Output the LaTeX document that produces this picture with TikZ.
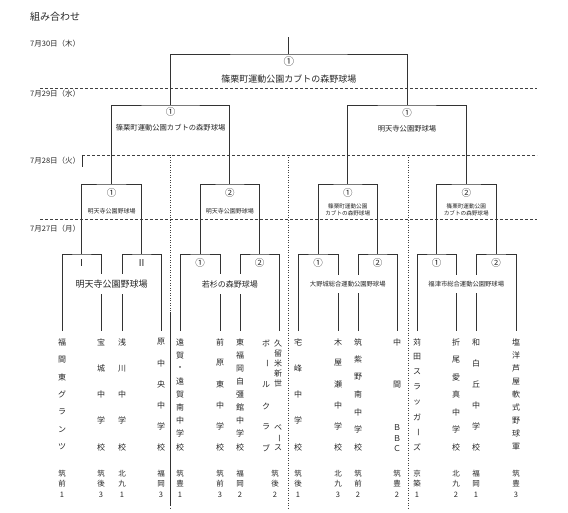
\documentclass[tikz,border=0pt]{standalone}
\usepackage{fontspec}
\setmainfont{Noto Sans CJK JP}
\usetikzlibrary{positioning}

\tikzset{
  tree/.style={line width=0.9pt, black!80},
  dayline/.style={densely dashed, line width=0.6pt, black!75},
  zoneline/.style={dash pattern=on 1pt off 1.5pt, line width=0.6pt, black!75},
  day/.style={anchor=west, inner sep=0pt, font=\fontsize{7.5}{8}\selectfont, text=black!85},
  num/.style={inner sep=0pt, font=\fontsize{9.5}{9.5}\selectfont, text=black!85},
  team/.style={inner sep=0pt, font=\fontsize{8}{8}\selectfont, text=black!85},
  region/.style={inner sep=0pt, align=center, font=\fontsize{7.5}{10.5}\selectfont, text=black!85},
  venue/.style={inner sep=0pt, align=center, text=black!85},
  cutvenue/.style={venue, fill=white, inner xsep=1pt, inner ysep=6pt}
}

% vertical long sound mark
\newcommand{\vchou}{\rotatebox[origin=c]{-90}{ー}}
% team name set top to bottom: name, x, step, chars
\newcommand{\teamcol}[4]{%
  \foreach \ch [count=\i from 0] in {#4}
    \node[team] (#1c\i) at (#2,342+\i*#3) {\ch};
}

\begin{document}
\begin{tikzpicture}[x=1pt,y=-1pt]
  \useasboundingbox (0,0) rectangle (568,513);

  % title and days
  \node[day, font=\fontsize{10}{10}\selectfont] (title) at (30,17) {組み合わせ};
  \node[day] (d30) at (30,44) {7月30日（木）};
  \node[day] (d29) at (30,94) {7月29日（水）};
  \node[day] (d28) at (30,161) {7月28日（火）};
  \node[day] (d27) at (30,229) {7月27日（月）};

  % day lines
  \draw[dayline] (40,88) -- (537,88);
  \draw[dayline] (82,155) -- (537,155);
  \draw[dayline] (40,219) -- (537,219);
  \draw[tree] (82,155) -- (82,167);

  % zone lines
  \foreach \x in {170,288,408}
    \draw[zoneline] (\x,155) -- (\x,508);
  \draw[tree, line width=0.7pt] (170,312) -- (170,506);

  % team line ends
  \foreach \n/\x in {1/62,2/101,3/122,4/161,5/180,6/220,7/240,8/279,
                     9/298,10/338,11/358,12/397,13/417,14/456,15/476,16/516}
    \coordinate (t\n) at (\x,331);

  % match tops
  \foreach \n/\x in {1/81.5,2/141.5,3/200,4/259.5,5/318,6/377.5,7/436.5,8/496}
    \coordinate (m\n) at (\x,254);
  \foreach \n/\x in {1/111.5,2/229.75,3/347.75,4/466.25}
    \coordinate (q\n) at (\x,184);
  \coordinate (s1) at (170.6,105);
  \coordinate (s2) at (407,105);
  \coordinate (f) at (288.8,54);
  \coordinate (win) at (288.8,37);

  % brackets
  \foreach \a/\m/\b in {t1/m1/t2,t3/m2/t4,t5/m3/t6,t7/m4/t8,
                        t9/m5/t10,t11/m6/t12,t13/m7/t14,t15/m8/t16}
    \draw[tree] (\a) |- (\m) -| (\b);
  \foreach \a/\m/\b in {m1/q1/m2,m3/q2/m4,m5/q3/m6,m7/q4/m8}
    \draw[tree] (\a) |- (\m) -| (\b);
  \draw[tree] (q1) |- (s1) -| (q2);
  \draw[tree] (q3) |- (s2) -| (q4);
  \draw[tree] (s1) |- (f) -| (s2);
  \draw[tree] (f) -- (win);

  % final
  \node[num, font=\fontsize{10.5}{10.5}\selectfont] (fnum) at (288.8,62) {①};
  \node[venue, font=\fontsize{9}{9}\selectfont] (fven) at (288.8,79) {篠栗町運動公園カブトの森野球場};

  % semi finals
  \node[num] (s1num) at (170.6,112) {①};
  \node[venue, font=\fontsize{7.3}{8}\selectfont] (s1ven) at (170.6,128) {篠栗町運動公園カブトの森野球場};
  \node[num] (s2num) at (407,113) {①};
  \node[venue, font=\fontsize{7.3}{8}\selectfont] (s2ven) at (407,129) {明天寺公園野球場};

  % second round
  \node[num] (q1num) at (111.5,193) {①};
  \node[venue, font=\fontsize{6}{6}\selectfont] (q1ven) at (111.5,211) {明天寺公園野球場};
  \node[num] (q2num) at (229.75,193) {②};
  \node[venue, font=\fontsize{6}{6}\selectfont] (q2ven) at (229.75,211) {明天寺公園野球場};
  \node[num] (q3num) at (347.75,193) {①};
  \node[venue, font=\fontsize{5.6}{7.5}\selectfont] (q3ven) at (347.75,210) {篠栗町運動公園\\カブトの森野球場};
  \node[num] (q4num) at (466.25,193) {②};
  \node[venue, font=\fontsize{5.6}{7.5}\selectfont] (q4ven) at (466.25,210) {篠栗町運動公園\\カブトの森野球場};

  % first round
  \foreach \n/\x/\l in {1/81.5/Ⅰ,2/141.5/Ⅱ,3/200/①,4/259.5/②,5/318/①,6/377.5/②,7/436.5/①,8/496/②}
    \node[num] (m\n num) at (\x,263) {\l};
  \node[cutvenue, font=\fontsize{9}{9}\selectfont] (p1ven) at (111.5,284) {明天寺公園野球場};
  \node[cutvenue, font=\fontsize{8}{8}\selectfont] (p2ven) at (229.75,284) {若杉の森野球場};
  \node[cutvenue, font=\fontsize{6.3}{6.3}\selectfont] (p3ven) at (347.75,284) {大野城総合運動公園野球場};
  \node[cutvenue, font=\fontsize{6.3}{6.3}\selectfont] (p4ven) at (466.25,284) {福津市総合運動公園野球場};

  % teams
  \teamcol{t1}{62}{17.5}{福,間,東,グ,ラ,ン,ツ}
  \teamcol{t2}{101}{26.25}{宝,城,中,学,校}
  \teamcol{t3}{122}{26.25}{浅,川,中,学,校}
  \teamcol{t4}{161}{21}{原,中,央,中,学,校}
  \teamcol{t5}{180}{13.125}{遠,賀,・,遠,賀,南,中,学,校}
  \teamcol{t6}{220}{21}{前,原,東,中,学,校}
  \teamcol{t7}{240}{13.125}{東,福,岡,自,彊,館,中,学,校}
  \foreach \ch [count=\i from 0] in {久,留,米,新,世}
    \node[team] (t8a\i) at (278,343+\i*10.2) {\ch};
  \foreach \ch [count=\i from 0] in {ベ,\vchou,ス}
    \node[team] (t8b\i) at (278,428+\i*10) {\ch};
  \foreach \ch [count=\i from 0] in {ボ,\vchou,ル,ク,ラ,ブ}
    \node[team] (t8c\i) at (266,343+\i*21) {\ch};
  \teamcol{t9}{298}{26.25}{宅,峰,中,学,校}
  \teamcol{t10}{338}{21}{木,屋,瀬,中,学,校}
  \teamcol{t11}{358}{17.5}{筑,紫,野,南,中,学,校}
  \node[team] (t12c0) at (397,342) {中};
  \node[team] (t12c1) at (397,385) {間};
  \foreach \ch [count=\i from 2] in {Ｂ,Ｂ,Ｃ}
    \node[team] (t12c\i) at (397,428+\i*10.5-21) {\ch};
  \teamcol{t13}{417}{15}{苅,田,ス,ラ,ッ,ガ,\vchou,ズ}
  \teamcol{t14}{456}{17.5}{折,尾,愛,真,中,学,校}
  \teamcol{t15}{476}{21}{和,白,丘,中,学,校}
  \teamcol{t16}{516}{13.125}{塩,洋,芦,屋,軟,式,野,球,軍}

  % regions
  \foreach \n/\x/\a/\b/\k in {1/62/筑/前/1,2/101/筑/後/3,3/122/北/九/1,4/161/福/岡/3,
                              5/180/筑/豊/1,6/220/筑/前/3,7/240/福/岡/2,8/275/筑/後/2,
                              9/298/筑/後/1,10/338/北/九/3,11/358/筑/前/2,12/397/筑/豊/2,
                              13/417/京/築/1,14/456/北/九/2,15/476/福/岡/1,16/516/筑/豊/3}
    \node[region] (r\n) at (\x,483.5) {\a\\\b\\\k};
\end{tikzpicture}
\end{document}
